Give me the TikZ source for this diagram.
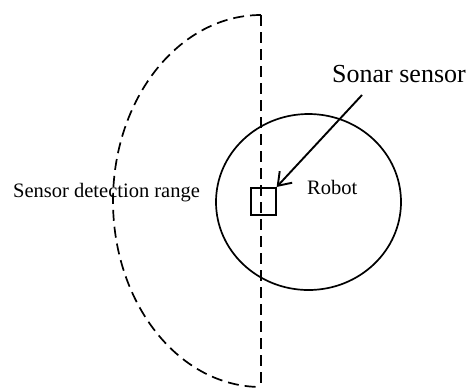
\documentclass[tikz,border=0pt]{standalone}
\usepackage{fontspec}
\setmainfont{Liberation Serif}
\usetikzlibrary{arrows.meta}
\begin{document}
\begin{tikzpicture}[x=1bp,y=-1bp,
  outline/.style={line width=1.7bp},
  rangeline/.style={line width=1.7bp, dash pattern=on 11bp off 6bp},
  lbl/.style={inner sep=0pt, anchor=base west},
  pointer/.style={line width=1.9bp, -{Straight Barb[length=12bp,width=17bp,line width=1.9bp]}}]
  \useasboundingbox (0,0) rectangle (469,388);

  % detection range: half ellipse closed by the vertical axis
  \draw[rangeline] (261,15) -- (261,388);
  \draw[rangeline] (261,15) arc[start angle=270, end angle=90, x radius=148, y radius=186];

  % robot body
  \draw[outline] (308.5,202) ellipse[x radius=92.5, y radius=88];

  % sensor
  \node[draw, outline, minimum width=25bp, minimum height=27bp, inner sep=0pt] (sensor) at (263.3,201.3) {};

  % labels
  \node[lbl, font=\fontsize{20.5bp}{24bp}\selectfont] (range) at (13,197) {Sensor detection range};
  \node[lbl, font=\fontsize{20.5bp}{24bp}\selectfont] (robot) at (307,194) {Robot};
  \node[lbl, font=\fontsize{26bp}{30bp}\selectfont] (sonar) at (332,82) {Sonar sensor};

  \coordinate (tail) at (362,95);
  \draw[pointer] (tail) -- (sensor.north east);
\end{tikzpicture}
\end{document}
